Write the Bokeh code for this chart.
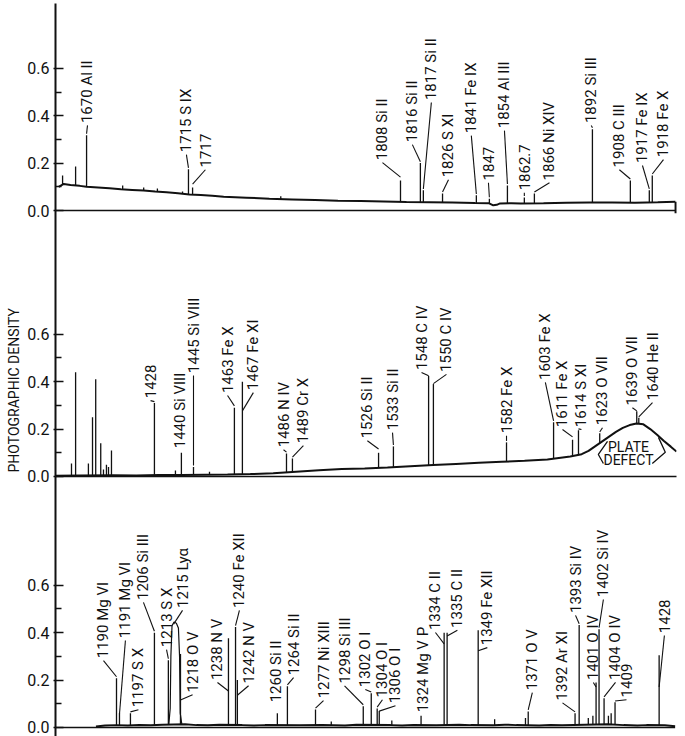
import numpy as np
from math import pi
from bokeh.plotting import figure
from bokeh.models import FixedTicker, Range1d, Title
from bokeh.core.properties import value
from bokeh.embed import file_html
from bokeh.resources import INLINE

# ---------------- strip layout ----------------
STRIP_START = [1656.4, 1384.7, 1163.3]   # wavelength (A) at left edge of each strip
STRIP_OFFSET = [2.1814, 1.0591, 0.0]     # vertical offset of each strip (density units)
STRIP_SPAN = 271.8
DENSITY_TICKS = [0.0, 0.2, 0.4, 0.6]
DENSITY_MINOR = [0.1, 0.3, 0.5]
TICK_LABELS = ["0.0", "0.2", "0.4", "0.6"]

# ---------------- top strip (1657-1928 A) ----------------
top_cont_wl = [1657.8, 1660, 1663, 1667, 1670, 1675, 1680, 1685, 1690, 1695, 1700, 1705, 1710, 1715,
               1720, 1725, 1730, 1740, 1750, 1760, 1770, 1780, 1790, 1800, 1810, 1820, 1830, 1840,
               1846, 1848, 1849.5, 1851, 1856, 1860, 1870, 1880, 1890, 1900, 1910, 1920, 1927.7]
top_cont_d = [0.10, 0.112, 0.108, 0.104, 0.1, 0.097, 0.094, 0.09, 0.087, 0.084, 0.08, 0.077, 0.073, 0.068,
              0.065, 0.062, 0.058, 0.054, 0.05, 0.047, 0.044, 0.041, 0.04, 0.038, 0.036, 0.035, 0.034, 0.032,
              0.031, 0.022, 0.024, 0.03, 0.031, 0.03, 0.031, 0.033, 0.034, 0.034, 0.033, 0.035, 0.037]
top_line_wl = [1659.5, 1665.2, 1670.0, 1685.8, 1695.0, 1701.0, 1712.0, 1714.6, 1716.4, 1755.0, 1807.4,
               1816.1, 1817.4, 1825.8, 1840.6, 1846.3, 1854.2, 1861.6, 1866.0, 1891.4, 1908.0, 1916.3, 1917.6]
top_line_peak = [0.148, 0.186, 0.318, 0.106, 0.097, 0.093, 0.08, 0.174, 0.097, 0.06, 0.127,
                 0.2, 0.085, 0.072, 0.064, 0.05, 0.106, 0.055, 0.072, 0.343, 0.127, 0.085, 0.148]
top_labels = ["1670 Al II", "1715 S IX", "1717", "1808 Si II", "1816 Si II", "1817 Si II", "1826 S XI",
              "1841 Fe IX", "1847", "1854 Al III", "1862.7", "1866 Ni XIV", "1892 Si III", "1908 C III",
              "1917 Fe IX", "1918 Fe X"]
top_label_target = [1670.0, 1714.6, 1716.4, 1807.4, 1816.1, 1817.4, 1825.8, 1840.6, 1846.3, 1854.2,
                    1861.6, 1866.0, 1891.4, 1908.0, 1916.3, 1917.6]
top_label_x = [1670.4, 1713.7, 1722.0, 1799.5, 1812.6, 1820.9, 1828.4, 1838.4, 1845.9, 1852.9,
               1861.6, 1872.6, 1890.9, 1903.2, 1913.3, 1922.5]
top_label_y = [0.369, 0.246, 0.182, 0.212, 0.288, 0.466, 0.14, 0.326, 0.127, 0.347,
               0.085, 0.127, 0.369, 0.182, 0.2, 0.225]
top_label_tip = [0.318, 0.174, 0.105, 0.135, 0.2, 0.085, 0.072, 0.064, 0.05, 0.106,
                 0.055, 0.072, 0.343, 0.127, 0.085, 0.148]

# ---------------- middle strip (1385-1657 A) ----------------
mid_cont_wl = [1384.7, 1395, 1410, 1420, 1430, 1440, 1450, 1460, 1470, 1480, 1490, 1500, 1510, 1520,
               1530, 1540, 1550, 1560, 1570, 1580, 1590, 1600, 1605, 1610, 1615, 1618, 1621, 1624,
               1627, 1630, 1633, 1636, 1639, 1642, 1645, 1648, 1651, 1654, 1656.5]
mid_cont_d = [0.003, 0.004, 0.005, 0.004, 0.006, 0.006, 0.007, 0.008, 0.01, 0.014, 0.02, 0.026, 0.032, 0.034,
              0.038, 0.043, 0.048, 0.053, 0.058, 0.062, 0.066, 0.072, 0.078, 0.084, 0.094, 0.108, 0.128, 0.148,
              0.168, 0.188, 0.205, 0.217, 0.224, 0.22, 0.2, 0.176, 0.15, 0.126, 0.105]
mid_line_wl = [1391.7, 1393.5, 1399.1, 1400.9, 1402.3, 1404.5, 1405.7, 1407.0, 1407.9, 1409.2,
               1428.0, 1437.2, 1439.8, 1445.1, 1452.1, 1463.0, 1466.5, 1485.8, 1488.4, 1526.1,
               1532.6, 1548.0, 1550.1, 1582.1, 1602.7, 1611.0, 1613.6, 1622.9, 1639.1, 1640.0]
mid_line_peak = [0.055, 0.44, 0.055, 0.25, 0.41, 0.14, 0.03, 0.05, 0.04, 0.11,
                 0.31, 0.025, 0.10, 0.04, 0.02, 0.29, 0.40, 0.097, 0.076, 0.10,
                 0.127, 0.424, 0.39, 0.144, 0.229, 0.155, 0.195, 0.182, 0.275, 0.248]
mid_labels = ["1428", "1440 Si VIII", "1445 Si VIII", "1463 Fe X", "1467 Fe XI", "1486 N IV", "1489 Cr X",
              "1526 Si II", "1533 Si II", "1548 C IV", "1550 C IV", "1582 Fe X", "1603 Fe X", "1611 Fe X",
              "1614 S XI", "1623 O VII", "1639 O VII", "1640 He II"]
mid_label_target = [1428.0, 1439.8, 1445.1, 1463.0, 1466.5, 1485.8, 1488.4, 1526.1, 1532.6, 1548.0,
                    1550.1, 1582.1, 1602.7, 1611.0, 1613.6, 1622.9, 1639.1, 1640.0]
mid_label_x = [1426.3, 1439.4, 1445.1, 1460.0, 1471.3, 1484.5, 1493.2, 1521.2, 1532.2, 1544.9,
               1555.8, 1582.1, 1599.1, 1606.6, 1614.9, 1624.1, 1637.2, 1646.0]
mid_label_y = [0.33, 0.119, 0.436, 0.352, 0.364, 0.123, 0.14, 0.161, 0.195, 0.449,
               0.441, 0.182, 0.407, 0.208, 0.208, 0.216, 0.30, 0.322]
mid_label_tip = [0.31, None, 0.04, 0.292, 0.271, 0.097, 0.076, 0.11, 0.127, 0.419,
                 0.386, 0.144, 0.229, 0.161, 0.195, 0.182, 0.271, 0.246]
defect_left_wl = [1626.3, 1622.3, 1624.5]
defect_left_d = [0.148, 0.093, 0.055]
defect_right_wl = [1648.6, 1651.6, 1645.9]
defect_right_d = [0.165, 0.102, 0.055]

# ---------------- bottom strip (1163-1435 A) ----------------
bot_cont_wl = [1181, 1185, 1190, 1195, 1200, 1205, 1210, 1220, 1225, 1230, 1235, 1245, 1250, 1255,
               1270, 1280, 1290, 1295, 1310, 1315, 1320, 1330, 1340, 1345, 1355, 1360, 1365, 1375,
               1380, 1385, 1395, 1405, 1412, 1418, 1422, 1430, 1434.5]
bot_cont_d = [0.004, 0.008, 0.01, 0.008, 0.011, 0.009, 0.012, 0.014, 0.01, 0.009, 0.012, 0.01, 0.008, 0.01,
              0.009, 0.011, 0.008, 0.012, 0.01, 0.008, 0.011, 0.009, 0.012, 0.01, 0.009, 0.012, 0.01, 0.008,
              0.011, 0.009, 0.012, 0.014, 0.01, 0.008, 0.01, 0.009, 0.005]
lya_wl = [1212.9, 1213.5, 1213.8, 1214.3, 1215.2, 1216.2, 1217.1, 1217.6, 1217.9, 1218.6]
lya_d = [0.013, 0.08, 0.30, 0.43, 0.445, 0.44, 0.42, 0.30, 0.06, 0.013]
bot_line_wl = [1190.0, 1191.3, 1196.1, 1206.6, 1212.7, 1218.0, 1239.0, 1242.1, 1242.9, 1260.4,
               1264.8, 1277.1, 1284.0, 1298.0, 1301.5, 1304.1, 1305.0, 1310.5, 1323.3, 1333.4,
               1334.7, 1348.3, 1355.5, 1369.0, 1370.2, 1390.7, 1392.5, 1396.5, 1398.5, 1399.9,
               1401.2, 1403.4, 1405.3, 1406.5, 1408.2, 1427.5]
bot_line_peak = [0.208, 0.06, 0.06, 0.40, 0.284, 0.31, 0.377, 0.424, 0.2, 0.06,
                 0.174, 0.076, 0.025, 0.09, 0.144, 0.08, 0.07, 0.03, 0.05, 0.40,
                 0.40, 0.41, 0.035, 0.04, 0.068, 0.06, 0.432, 0.04, 0.05, 0.19,
                 0.415, 0.123, 0.05, 0.06, 0.106, 0.305]
bot_labels = ["1190 Mg VI", "1191 Mg VI", "1197 S X", "1206 Si III", "1213 S X", "1215 Lyα", "1218 O V",
              "1238 N V", "1240 Fe XII", "1242 N V", "1260 Si II", "1264 Si II", "1277 Ni XIII",
              "1298 Si III", "1302 O I", "1304 O I", "1306 O I", "1324 Mg V P", "1334 C II", "1335 C II",
              "1349 Fe XII", "1371 O V", "1392 Ar XI", "1393 Si IV", "1401 O IV", "1402 Si IV",
              "1404 O IV", "1409", "1428"]
bot_label_target = [1190.0, 1191.3, 1196.1, 1206.6, 1212.7, 1215.0, 1218.0, 1239.0, 1242.1, 1242.9,
                    1260.4, 1264.8, 1277.1, 1298.0, 1301.5, 1304.1, 1305.0, 1323.3, 1333.4, 1334.7,
                    1348.3, 1370.2, 1390.7, 1392.5, 1399.9, 1401.2, 1403.4, 1408.2, 1427.5]
bot_label_x = [1184.3, 1193.9, 1199.6, 1201.8, 1211.9, 1218.9, 1223.3, 1234.2, 1243.8, 1247.8,
               1259.6, 1267.5, 1280.6, 1289.8, 1298.9, 1306.4, 1312.1, 1324.3, 1329.6, 1339.2,
               1352.3, 1372.0, 1385.2, 1390.9, 1398.7, 1403.1, 1408.4, 1413.2, 1429.8]
bot_label_y = [0.292, 0.377, 0.085, 0.538, 0.339, 0.504, 0.148, 0.2, 0.504, 0.186,
               0.106, 0.22, 0.123, 0.186, 0.17, 0.127, 0.102, 0.064, 0.411, 0.42,
               0.347, 0.157, 0.114, 0.483, 0.2, 0.55, 0.2, 0.127, 0.398]
bot_label_tip = [0.208, 0.05, 0.06, 0.40, 0.284, 0.43, 0.11, 0.148, 0.424, 0.13,
                 None, 0.174, 0.076, 0.09, 0.144, 0.08, 0.063, None, 0.347, 0.38,
                 0.318, 0.068, 0.06, 0.432, 0.165, 0.415, 0.123, 0.106, 0.165]

FONT = "Roboto"
INK = "#111111"

p = figure(width=685, height=736, output_backend="svg", toolbar_location=None,
           x_axis_location=None, x_range=Range1d(0, STRIP_SPAN), y_range=Range1d(-0.038, 3.0549),
           min_border_left=55, min_border_right=9, min_border_top=3, min_border_bottom=0)
p.grid.visible = False
p.outline_line_color = None
p.background_fill_color = "white"
p.border_fill_color = "white"

majors, minors, overrides = [], [], {}
for off in STRIP_OFFSET:
    for v, lab in zip(DENSITY_TICKS, TICK_LABELS):
        t = off + v
        majors.append(t)
        overrides[t] = lab
    for v in DENSITY_MINOR:
        minors.append(off + v)
ax = p.yaxis[0]
ax.ticker = FixedTicker(ticks=majors, minor_ticks=minors)
ax.major_label_overrides = overrides
ax.axis_line_width = 2
ax.axis_line_color = INK
ax.major_tick_line_color = INK
ax.minor_tick_line_color = INK
ax.major_tick_line_width = 1.5
ax.minor_tick_line_width = 1.5
ax.major_tick_in = 8
ax.major_tick_out = 2
ax.minor_tick_in = 6
ax.minor_tick_out = 0
ax.major_label_standoff = 4
ax.major_label_text_font = FONT
ax.major_label_text_font_size = "16px"
ax.major_label_text_color = INK

p.add_layout(Title(text="PHOTOGRAPHIC DENSITY", align="left", offset=264, standoff=5,
                   text_font=FONT, text_font_size="14px", text_font_style="normal",
                   text_color=INK), "left")


def strip(k, cont_wl, cont_d, line_wl, line_pk, labels, target, lab_x, lab_y, tip,
          broad_wl=None, broad_d=None, axis_end=None, end_tick=False):
    x0 = STRIP_START[k]
    y0 = STRIP_OFFSET[k]
    cw = np.array(cont_wl, dtype=float)
    cd = np.array(cont_d, dtype=float)
    # zero line of the strip
    if axis_end is not None:
        p.segment(x0=[0], y0=[y0], x1=[axis_end - x0], y1=[y0], line_color=INK, line_width=1.6)
        if end_tick:
            p.segment(x0=[axis_end - x0], y0=[y0 - 0.012], x1=[axis_end - x0], y1=[y0 + 0.037],
                      line_color=INK, line_width=2.5)
    # continuum trace
    p.line(cw - x0, cd + y0, line_color=INK, line_width=2.0)
    # broad emission profile (thin outline)
    if broad_wl is not None:
        p.line(np.array(broad_wl) - x0, np.array(broad_d) + y0, line_color=INK, line_width=1.2)
    # emission lines
    lw = np.array(line_wl, dtype=float)
    base = np.interp(lw, cw, cd)
    p.segment(x0=lw - x0, y0=base + y0, x1=lw - x0, y1=np.array(line_pk) + y0,
              line_color=INK, line_width=1.3)
    # labels
    lx = np.array(lab_x, dtype=float)
    ly = np.array(lab_y, dtype=float)
    p.text(x=lx - x0, y=ly + y0, text=labels, angle=pi / 2, text_align="left",
           text_baseline="middle", text_font=value(FONT), text_font_size="15px", text_color=INK)
    sx0, sy0, sx1, sy1 = [], [], [], []
    for t, x, y, tp in zip(target, lx, ly, tip):
        if tp is None:
            continue
        sx0.append(x - x0)
        sy0.append(y - 0.01 + y0)
        sx1.append(t - x0)
        sy1.append(tp + 0.006 + y0)
    p.segment(x0=sx0, y0=sy0, x1=sx1, y1=sy1, line_color=INK, line_width=1.1)


strip(0, top_cont_wl, top_cont_d, top_line_wl, top_line_peak, top_labels, top_label_target,
      top_label_x, top_label_y, top_label_tip, axis_end=1927.9, end_tick=True)
strip(1, mid_cont_wl, mid_cont_d, mid_line_wl, mid_line_peak, mid_labels, mid_label_target,
      mid_label_x, mid_label_y, mid_label_tip, axis_end=1658.5)
strip(2, bot_cont_wl, bot_cont_d, bot_line_wl, bot_line_peak, bot_labels, bot_label_target,
      bot_label_x, bot_label_y, bot_label_tip,
      broad_wl=lya_wl, broad_d=lya_d, axis_end=1434.5)

# plate defect annotation (middle strip)
x0m, y0m = STRIP_START[1], STRIP_OFFSET[1]
p.text(x=[1635.5 - x0m, 1635.5 - x0m], y=[0.123 + y0m, 0.068 + y0m], text=["PLATE", "DEFECT"],
       text_align="center", text_baseline="middle", text_font=value(FONT), text_font_size="14px",
       text_color=INK)
p.multi_line(xs=[list(np.array(defect_left_wl) - x0m), list(np.array(defect_right_wl) - x0m)],
             ys=[list(np.array(defect_left_d) + y0m), list(np.array(defect_right_d) + y0m)],
             line_color=INK, line_width=1.3)

open("out.html", "w").write(file_html(p, INLINE))
